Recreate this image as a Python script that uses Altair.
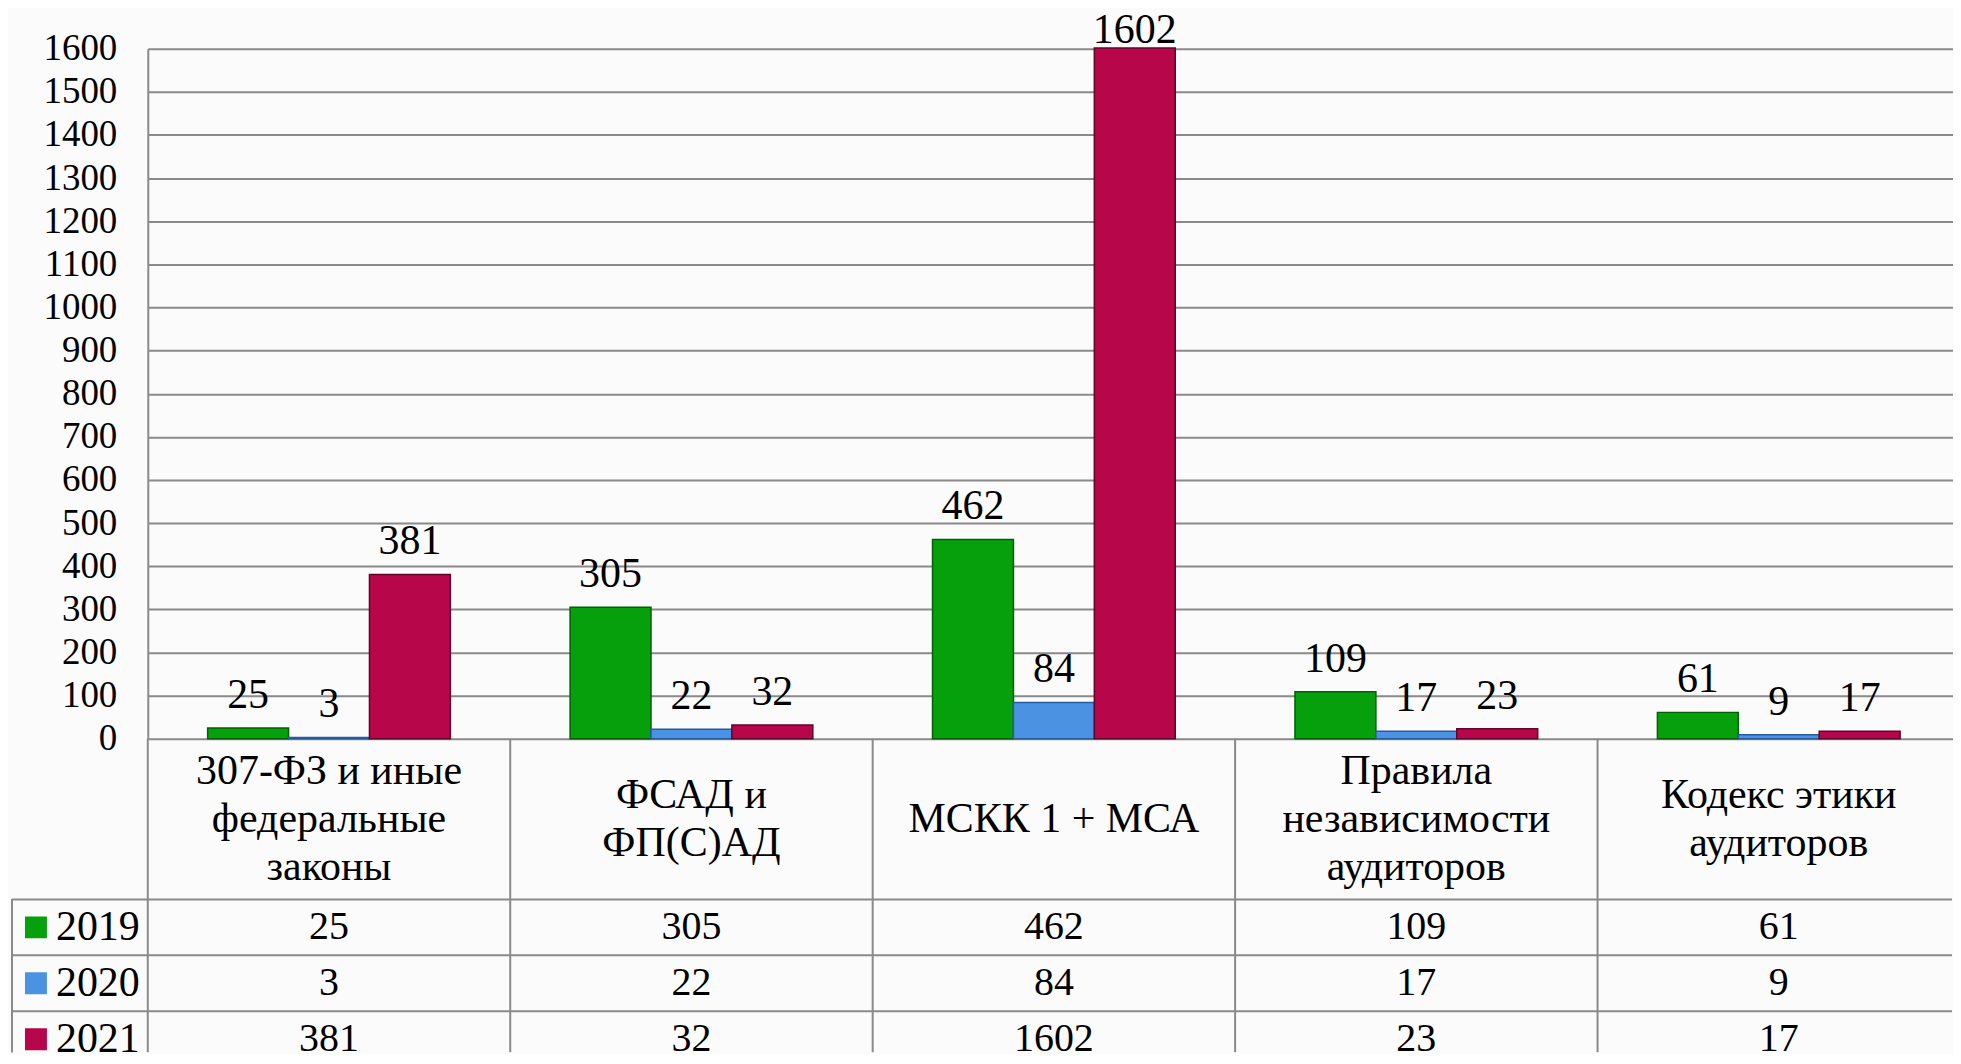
import altair as alt
import pandas as pd

categories = [
    "307-ФЗ и иные федеральные законы",
    "ФСАД и ФП(С)АД",
    "МСКК 1 + МСА",
    "Правила независимости аудиторов",
    "Кодекс этики аудиторов",
]
category_lines = [
    "307-ФЗ и иные\nфедеральные\nзаконы",
    "ФСАД и\nФП(С)АД",
    "МСКК 1 + МСА",
    "Правила\nнезависимости\nаудиторов",
    "Кодекс этики\nаудиторов",
]
years = ["2019", "2020", "2021"]
values_2019 = [25, 305, 462, 109, 61]
values_2020 = [3, 22, 84, 17, 9]
values_2021 = [381, 32, 1602, 23, 17]
y_ticks = list(range(0, 1700, 100))

colors = ["#05A00B", "#4B92E3", "#B7064A"]
edge_colors = ["#035F08", "#245C9E", "#62042A"]
GRID = "#8a8a8a"
FONT = "Liberation Serif"

rows = []
for yr, vals in zip(years, [values_2019, values_2020, values_2021]):
    for c, lab, v in zip(categories, category_lines, vals):
        rows.append({"cat": c, "lab": lab, "year": yr, "value": v})
df = pd.DataFrame(rows)
cat_df = pd.DataFrame({"cat": categories, "lab": category_lines})
year_df = pd.DataFrame({"year": years})

PLOT_W = 1807      # visible plot width (page is cut at the right edge)
BAND_SPAN = 1815   # full category span, as in the reference
BAR_H = 691
LAB_H = 161
TAB_H = 153        # visible part of the data table
ROW_SPAN = 168     # three rows of equal height, last one cut by the page edge
HDR_W = 136
LINE_H = 48

xband = alt.Scale(paddingInner=0, paddingOuter=0, range=[0, BAND_SPAN])
yband = alt.Scale(paddingInner=0, paddingOuter=0, range=[0, ROW_SPAN])
color_scale = alt.Scale(domain=years, range=colors)

# ---- bars ----
x_cat = alt.X("cat:N", sort=categories, scale=xband, axis=None)
x_off = alt.XOffset("year:N", sort=years, scale=alt.Scale(paddingInner=0, paddingOuter=0.74))

bars = alt.Chart(df).mark_bar(strokeWidth=1.5).encode(
    x=x_cat,
    xOffset=x_off,
    y=alt.Y(
        "value:Q",
        scale=alt.Scale(domain=[0, 1600], nice=False),
        axis=alt.Axis(
            values=y_ticks,
            format="d",
            title=None,
            ticks=False,
            labelPadding=31,
            labelFont=FONT,
            labelFontSize=37,
            labelColor="black",
            domainColor=GRID,
            domainWidth=2,
            gridColor=GRID,
            gridWidth=2,
        ),
    ),
    color=alt.Color("year:N", scale=color_scale, legend=None),
    stroke=alt.Stroke("year:N", scale=alt.Scale(domain=years, range=edge_colors), legend=None),
)
bar_labels = alt.Chart(df).transform_calculate(
    label_y="min(datum.value, 1566)"
).mark_text(font=FONT, fontSize=42, baseline="alphabetic", dy=-20, color="black").encode(
    x=x_cat,
    xOffset=x_off,
    y=alt.Y("label_y:Q"),
    text=alt.Text("value:Q"),
)
top = alt.layer(bars, bar_labels).properties(width=PLOT_W, height=BAR_H)

# ---- category label row ----
lab_rules = alt.Chart(cat_df).mark_rule(color=GRID, strokeWidth=2).encode(
    x=alt.X("cat:N", sort=categories, scale=xband, axis=None, bandPosition=0)
)
lab_layers = [lab_rules]
for n in (1, 2, 3):
    lab_layers.append(
        alt.Chart(cat_df)
        .transform_calculate(nlines="length(split(datum.lab, '\\n'))")
        .transform_filter(f"datum.nlines == {n}")
        .mark_text(
            font=FONT, fontSize=42, lineBreak="\n", lineHeight=LINE_H,
            baseline="middle", color="black", dy=-(n - 1) * LINE_H / 2,
        )
        .encode(x=alt.X("cat:N", sort=categories, scale=xband, axis=None), text="lab:N")
    )
lab_row = alt.layer(*lab_layers).properties(width=PLOT_W, height=LAB_H)

# ---- values table ----
y_row = alt.Y("year:N", sort=years, scale=yband, axis=None)
tab_vrules = alt.Chart(cat_df).mark_rule(color=GRID, strokeWidth=2).encode(
    x=alt.X("cat:N", sort=categories, scale=xband, axis=None, bandPosition=0)
)
tab_hrules = alt.Chart(year_df).mark_rule(color=GRID, strokeWidth=2).encode(
    y=alt.Y("year:N", sort=years, scale=yband, axis=None, bandPosition=0)
)
tab_text = alt.Chart(df).mark_text(
    font=FONT, fontSize=40, baseline="middle", color="black", clip=True
).encode(
    x=alt.X("cat:N", sort=categories, scale=xband, axis=None),
    y=y_row,
    text=alt.Text("value:Q"),
)
table = alt.layer(tab_vrules, tab_hrules, tab_text).properties(width=PLOT_W, height=TAB_H)

# ---- row header (legend keys) ----
hdr_hrules = alt.Chart(year_df).mark_rule(color=GRID, strokeWidth=2).encode(
    y=alt.Y("year:N", sort=years, scale=yband, axis=None, bandPosition=0)
)
hdr_left = alt.Chart(year_df).mark_rule(color=GRID, strokeWidth=2).encode(x=alt.value(0))
hdr_sq = alt.Chart(year_df).mark_square(size=484, opacity=1, clip=True).encode(
    x=alt.value(24),
    y=y_row,
    color=alt.Color("year:N", scale=color_scale, legend=None),
)
hdr_txt = alt.Chart(year_df).mark_text(
    font=FONT, fontSize=42, align="left", baseline="middle", color="black", clip=True
).encode(x=alt.value(44), y=y_row, text="year:N")
header = alt.layer(hdr_hrules, hdr_left, hdr_sq, hdr_txt).properties(width=HDR_W, height=TAB_H)

# ---- empty spacer cells ----
blank = pd.DataFrame({"v": [0]})
empty_top = alt.Chart(blank).mark_point(opacity=0).encode(x=alt.value(1), y=alt.value(1)).properties(width=HDR_W, height=BAR_H)
empty_mid = alt.Chart(blank).mark_point(opacity=0).encode(x=alt.value(1), y=alt.value(1)).properties(width=HDR_W, height=LAB_H)

chart = alt.concat(
    empty_top, top,
    empty_mid, lab_row,
    header, table,
    columns=2,
    spacing=0,
    bounds="flush",
    align="each",
).properties(
    background="#fbfbfb",
    padding={"left": 2, "top": 0, "right": 0, "bottom": 0},
).configure(font=FONT).configure_text(font=FONT).configure_view(strokeWidth=0)

chart.save("out.html", embed_options={"renderer": "svg", "actions": False})
